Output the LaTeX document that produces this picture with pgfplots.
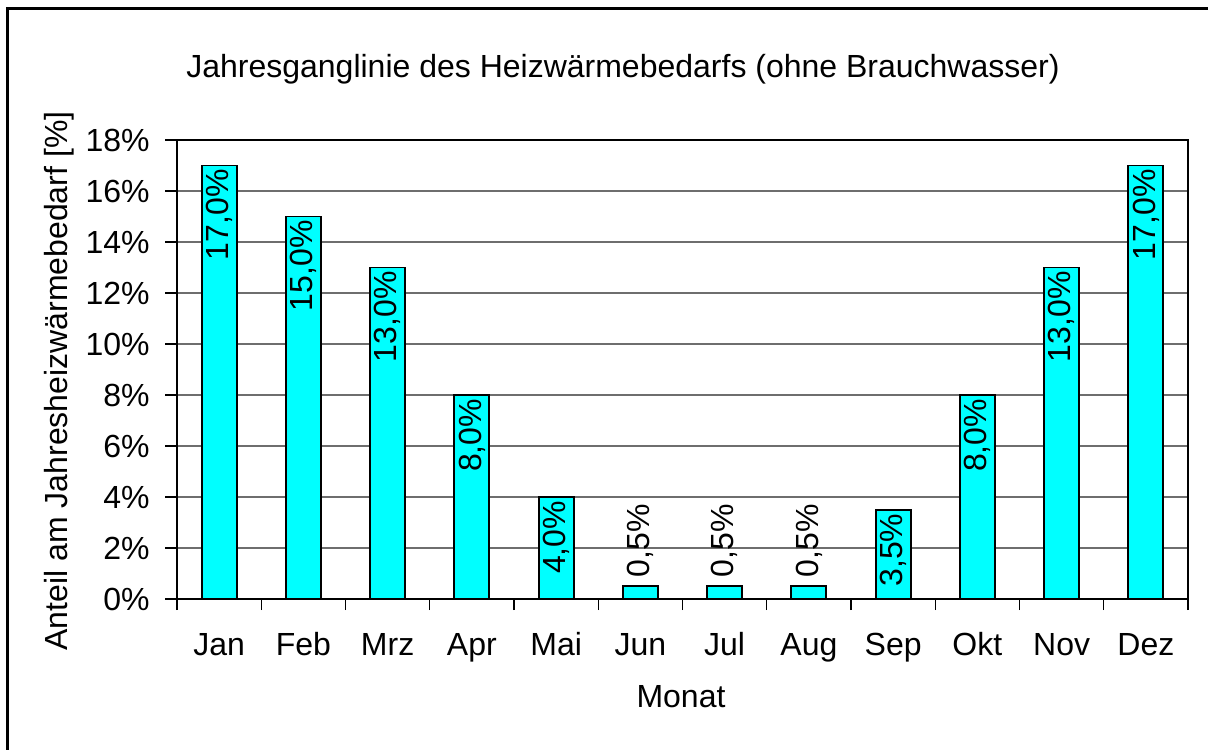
\documentclass[border=0pt]{standalone}
\usepackage{fontspec}
\setmainfont{Liberation Sans}
\usepackage{pgfplots}
\usepackage{pgfplotstable}
\pgfplotsset{compat=1.18}
\definecolor{barcyan}{RGB}{0,255,255}
\definecolor{gridgray}{RGB}{110,110,110}
\pgfplotstableread{
x y lab
0 17 17,0
1 15 15,0
2 13 13,0
3 8 8,0
4 4 4,0
8 3.5 3,5
9 8 8,0
10 13 13,0
11 17 17,0
}\inside
\pgfplotstableread{
x y lab
5 0.5 0,5
6 0.5 0,5
7 0.5 0,5
}\outside
\newcommand{\fs}{\fontsize{16}{19}\selectfont}
\begin{document}
\begin{tikzpicture}
\begin{scope}[x=0.5pt,y=-0.5pt]
\path[use as bounding box] (0,0) rectangle (1208,749);
\draw[line width=1.5pt] (7,760) -- (7,8.5) -- (1220,8.5);
\node[anchor=base,font=\fs] at (623,77) {Jahresganglinie des Heizwärmebedarfs (ohne Brauchwasser)};
\node[anchor=base,rotate=90,font=\fs] at (67,381) {Anteil am Jahresheizwärmebedarf [\%]};
\node[anchor=base,font=\fs] at (681,707) {Monat};
\end{scope}
\begin{axis}[
  at={(88.5pt,-299.5pt)}, anchor=south west,
  width=505.5pt, height=229.5pt, scale only axis,
  xmin=-0.5, xmax=11.5, ymin=0, ymax=18,
  ybar, bar width=17.5pt, bar shift=0pt,
  xtick={0,...,11},
  xticklabels={Jan,Feb,Mrz,Apr,Mai,Jun,Jul,Aug,Sep,Okt,Nov,Dez},
  minor xtick={-0.5,0.5,...,11.5},
  major x tick style={draw=none},
  minor tick length=5.5pt,
  ytick={0,2,...,18},
  yticklabels={0\%,2\%,4\%,6\%,8\%,10\%,12\%,14\%,16\%,18\%},
  major tick length=6pt,
  tick align=outside,
  tick style={black, line width=0.7pt},
  xtick pos=bottom, ytick pos=left,
  ymajorgrids, grid style={gridgray, line width=0.9pt},
  axis line style={black, line width=0.9pt},
  tick label style={font=\fs},
  xticklabel style={anchor=base, yshift=-22pt, inner sep=0pt},
  yticklabel style={anchor=east, inner sep=0pt, xshift=-7.5pt},
  point meta=explicit symbolic,
  nodes near coords={\pgfplotspointmeta\%},
  every node near coord/.append style={font=\fs, rotate=90, anchor=east, inner sep=1.5pt},
]
\addplot[fill=barcyan, draw=black, line width=0.9pt] table[x=x,y=y,meta=lab] {\inside};
\addplot[fill=barcyan, draw=black, line width=0.9pt,
  every node near coord/.append style={anchor=west, inner sep=4pt}] table[x=x,y=y,meta=lab] {\outside};
\end{axis}
\end{tikzpicture}
\end{document}
